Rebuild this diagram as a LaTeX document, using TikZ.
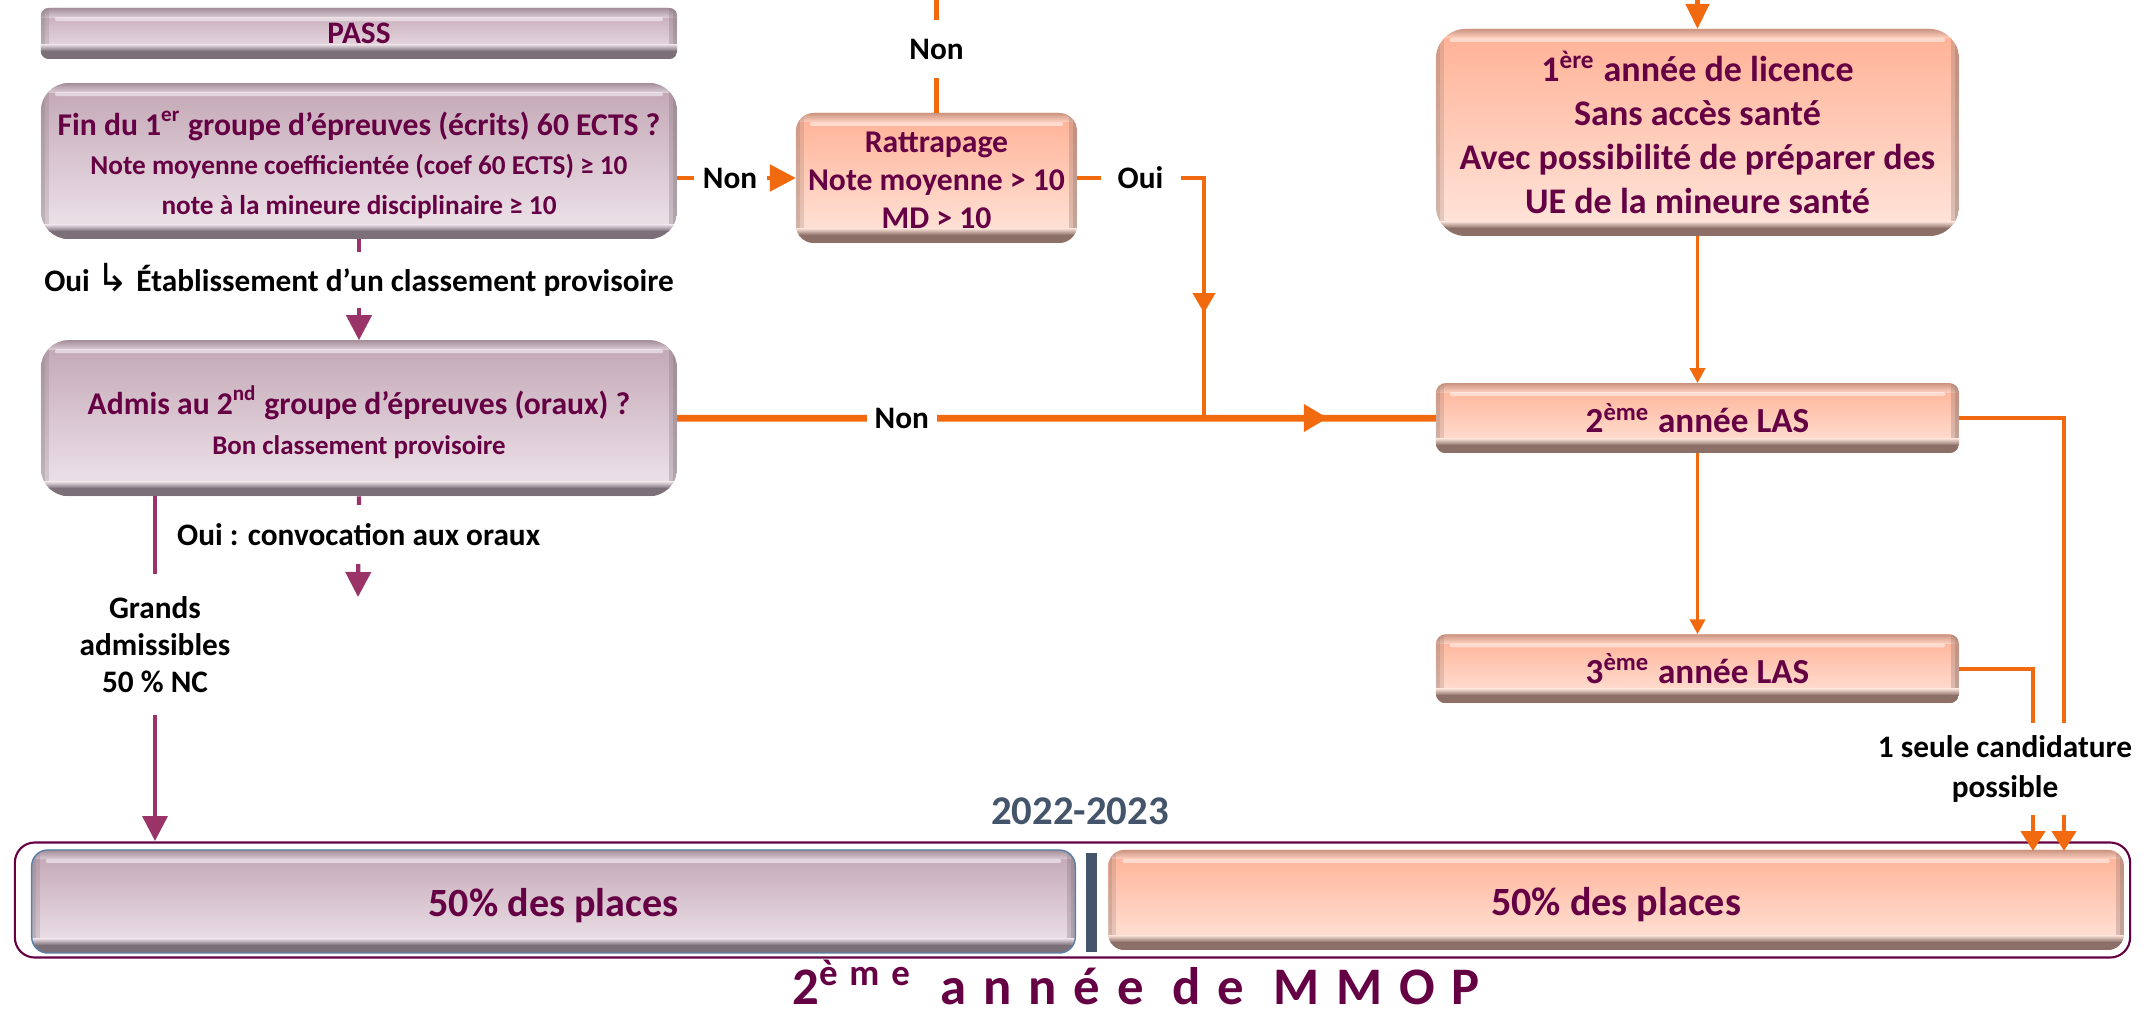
\documentclass[tikz,border=0pt]{standalone}
\usepackage{fontspec}
\setmainfont{Carlito}
\newfontfamily\symbolfont{DejaVu Sans}
\newfontfamily\titlefont[LetterSpace=32]{Carlito}
\usetikzlibrary{arrows.meta,positioning}

\definecolor{plum}{HTML}{660044}
\definecolor{slate}{HTML}{44546A}
\definecolor{steel}{HTML}{5B7FA5}
\definecolor{flow}{HTML}{F26A0F}
\definecolor{wine}{HTML}{9A3468}
\definecolor{pinktop}{HTML}{C2A6B4}
\definecolor{pinkbot}{HTML}{F0E6EC}
\definecolor{pinkedge}{HTML}{7C7078}
\definecolor{salmontop}{HTML}{FFB195}
\definecolor{salmonbot}{HTML}{FFE6DC}
\definecolor{salmonedge}{HTML}{8C7068}

\tikzset{
  textsize/.style 2 args={font=\fontsize{#1}{#2}\selectfont\bfseries},
  bevelbox/.style n args={3}{
    inner sep=0pt, outer sep=0pt, align=center, text=plum,
    top color=#1, bottom color=#2,
    path picture={
      \begin{scope}[sharp corners]
      \coordinate (sw) at (path picture bounding box.south west);
      \coordinate (se) at (path picture bounding box.south east);
      \coordinate (nw) at (path picture bounding box.north west);
      \coordinate (ne) at (path picture bounding box.north east);
      \shade[top color=#3!45!#1, bottom color=#1!60!white] (nw) rectangle ([yshift=-.09cm]ne);
      \fill[white, opacity=.5, rounded corners=.02cm] ([xshift=.14cm, yshift=-.09cm]nw) rectangle ([xshift=-.14cm, yshift=-.13cm]ne);
      \fill[#3, opacity=.22] (nw) rectangle ([xshift=.08cm]sw);
      \fill[#3, opacity=.22] (nw) rectangle ([xshift=.04cm]sw);
      \fill[#3, opacity=.3] (ne) rectangle ([xshift=-.08cm]se);
      \fill[#3, opacity=.3] (ne) rectangle ([xshift=-.04cm]se);
      \shade[top color=#2, bottom color=#3] ([yshift=.15cm]sw) rectangle ([yshift=.08cm]se);
      \fill[#3] (sw) rectangle ([yshift=.08cm]se);
      \end{scope}
    }},
  pinkbox/.style={bevelbox={pinktop}{pinkbot}{pinkedge}},
  salmonbox/.style={bevelbox={salmontop}{salmonbot}{salmonedge}},
  gaplabel/.style={fill=white, inner sep=0pt, align=center, textsize={8.9}{10.6}},
  flowline/.style={draw=flow, line width=1.3pt},
  flowthin/.style={draw=flow, line width=1.1pt, -{Triangle[length=.15cm, width=.15cm]}},
  wineline/.style={draw=wine, line width=1.2pt, -{Triangle[length=.25cm, width=.25cm]}}
}

\begin{document}
\begin{tikzpicture}[x=.01cm, y=-.01cm]
  \useasboundingbox (0,0) rectangle (2150,1014);

  % outer frame and bottom row
  \node[draw=plum, line width=.6pt, rounded corners=.2cm, minimum width=21.14cm, minimum height=1.15cm] (frame) at (1072.5,900) {};
  \node[pinkbox, draw=steel, line width=.4pt, rounded corners=.16cm, minimum width=10.43cm, minimum height=1.03cm, textsize={11.4}{13}] (placeleft) at (553.5,901.5) {\rule{0pt}{10.5pt}50\% des places};
  \node[salmonbox, rounded corners=.16cm, minimum width=10.15cm, minimum height=1cm, textsize={11.4}{13}] (placeright) [right=.33cm of placeleft.east, yshift=.015cm] {\rule{0pt}{10.5pt}50\% des places};
  \node[fill=slate, minimum width=.11cm, minimum height=.99cm, inner sep=0pt] (sepbar) at (1091.5,902.5) {};
  \node[text=slate, textsize={11.6}{13}] (year) at (1080,811) {2022-2023};
  \node[text=plum, anchor=base, font=\fontsize{15}{18}\selectfont\bfseries\titlefont] (title) at (1136,1004) {2\textsuperscript{ème} année de MMOP};

  % left column
  \node[pinkbox, rounded corners=.08cm, minimum width=6.36cm, minimum height=.51cm, textsize={8.9}{11}] (pass) at (359,33.5) {PASS};
  \node[pinkbox, rounded corners=.28cm, minimum width=6.36cm, minimum height=1.56cm, textsize={9}{11.3}] (fin) [below=.24cm of pass] {\rule{0pt}{9.1pt}Fin du 1\textsuperscript{er} groupe d’épreuves (écrits) 60 ECTS ?\\
    \fontsize{7.75}{11.3}\selectfont Note moyenne coefficientée (coef 60 ECTS) ≥ 10\\
    \fontsize{7.75}{11.3}\selectfont note à la mineure disciplinaire ≥ 10};
  \node[pinkbox, rounded corners=.28cm, minimum width=6.36cm, minimum height=1.56cm, textsize={9}{11.5}] (admis) [below=1.01cm of fin] {\rule{0pt}{10.5pt}Admis au 2\textsuperscript{nd} groupe d’épreuves (oraux) ?\\
    \fontsize{7.65}{11}\selectfont Bon classement provisoire};

  % middle and right columns
  \node[salmonbox, rounded corners=.18cm, minimum width=2.81cm, minimum height=1.30cm, textsize={9}{10.9}] (ratt) at (936.5,178) {\rule{0pt}{7.2pt}Rattrapage\\ Note moyenne > 10\\ MD > 10};
  \node[salmonbox, rounded corners=.3cm, minimum width=5.23cm, minimum height=2.07cm, textsize={10.25}{12.5}] (licence) at (1697.5,132.5) {1\textsuperscript{ère} année de licence\\ Sans accès santé\\ Avec possibilité de préparer des\\ UE de la mineure santé};
  \node[salmonbox, rounded corners=.1cm, minimum width=5.23cm, minimum height=.70cm, textsize={10}{12}] (lasb) [below=1.47cm of licence] {2\textsuperscript{ème} année LAS};
  \node[salmonbox, rounded corners=.1cm, minimum width=5.23cm, minimum height=.69cm, textsize={10}{12}] (lasc) [below=1.81cm of lasb] {3\textsuperscript{ème} année LAS};

  % free ends
  \coordinate (rattup) at (ratt.north |- 0,0);
  \coordinate (licup) at (licence.north |- 0,0);
  \coordinate (ouicorner) at (1204,178);
  \coordinate (ouihead) at (1204,313);
  \coordinate (ouiback) at (1204,293);
  \coordinate (ouijoin) at (1204,418);
  \coordinate (nonback) at (1304,418);
  \coordinate (nonhead) at (1328,418);
  \coordinate (adtip) at (358,597);
  \coordinate (grandtip) at (155,841);
  \coordinate (bfree) at (2064,851);
  \coordinate (cfree) at (2033,851);

  % orange links
  \draw[flowline, line width=1.2pt] (ratt.north) -- node[gaplabel, pos=.566, minimum width=.6cm, minimum height=.58cm] (nontop) {Non} (rattup);
  \draw[flowline, line width=1.4pt, {Triangle[length=.26cm, width=.26cm]}-] (ratt.west) -- node[gaplabel, pos=.555, minimum width=.73cm, minimum height=.3cm] (nonfin) {Non} (fin.east |- ratt.west);
  \draw[flowline, line width=1.2pt] (ratt.east) -- node[gaplabel, minimum width=.8cm, minimum height=.3cm] (ouilab) {Oui} (ouicorner) -- (ouijoin);
  \draw[flowline, line width=1.2pt, -{Triangle[length=.2cm, width=.22cm]}] (ouiback) -- (ouihead);
  \draw[flowline, line width=1.9pt] (admis.east) -- node[gaplabel, pos=.296, minimum width=.7cm, minimum height=.3cm] (nonadm) {Non} (lasb.west);
  \draw[flowline, line width=1.9pt, -{Triangle[length=.24cm, width=.26cm]}] (nonback) -- (nonhead);
  \draw[flowline, -{Triangle[length=.25cm, width=.23cm]}] (licup) -- (licence.north);
  \draw[flowthin] (licence.south) -- (lasb.north);
  \draw[flowthin] (lasb.south) -- (lasc.north);
  \draw[flowline, -{Triangle[length=.2cm, width=.24cm]}] (lasb.east) -| (bfree);
  \draw[flowline, -{Triangle[length=.2cm, width=.24cm]}] (lasc.east) -| (cfree);
  \node[gaplabel, textsize={8.9}{11.2}, minimum height=.92cm] (seule) at (2005,769) {1 seule candidature\\ possible};

  % purple links
  \draw[wineline] (fin.south) -- node[gaplabel, pos=.406, minimum height=.56cm] (ouifin) {Oui {\symbolfont\mdseries\fontsize{11}{11}\selectfont ↳} Établissement d’un classement provisoire} (admis.north);
  \draw[wineline] (admis.south) -- node[gaplabel, pos=.378, minimum height=.59cm] (ouiadm) {Oui : convocation aux oraux} (adtip);
  \draw[wineline, line width=1pt] (admis.south -| grandtip) -- node[gaplabel, pos=.43, minimum height=1.41cm] (grands) {Grands\\ admissibles\\ 50 \% NC} (grandtip);
\end{tikzpicture}
\end{document}
